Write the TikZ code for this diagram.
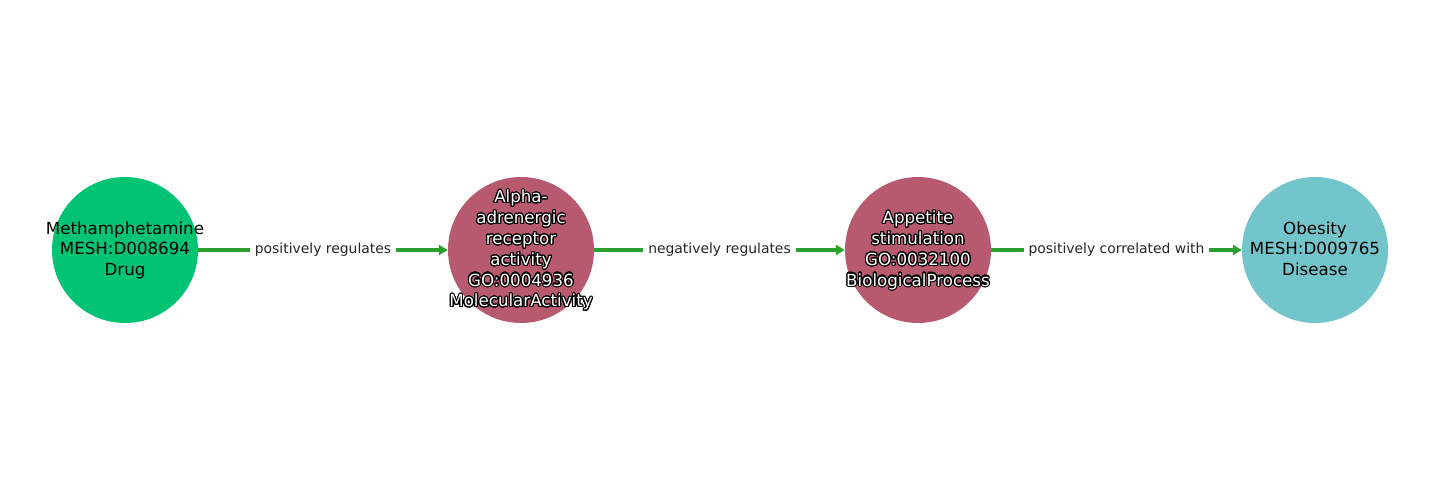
\documentclass[tikz,border=0pt]{standalone}
\usepackage{fontspec}
\setmainfont{DejaVu Sans}
\usepackage[copies]{contour}
\usetikzlibrary{arrows.meta}
\definecolor{drug}{HTML}{00C374}
\definecolor{proc}{HTML}{B85A6F}
\definecolor{dis}{HTML}{71C5CB}
\definecolor{edge}{HTML}{2CA02C}
\contourlength{1.1pt}
\contournumber{24}
\newcommand{\wl}[1]{\contour{black}{\textcolor{white}{#1}}}
\newcommand{\ztext}[1]{\smash{\makebox[0pt]{\raisebox{-0.3em}{\begin{tabular}{@{}c@{}}#1\end{tabular}}}}}
\begin{document}
\begin{tikzpicture}[x=1pt,y=1pt,
  ent/.style={circle,minimum size=146pt,inner sep=0pt,
    font=\fontsize{16.67}{20.8}\selectfont},
  rel/.style={draw=edge,line width=3.5pt,-{Triangle[length=9pt,width=10pt]}},
  lab/.style={fill=white,inner sep=5pt,font=\fontsize{13.9}{16}\selectfont,text=black!85}]
\useasboundingbox (0,0) rectangle (1440,500);
\node[ent,fill=drug] (a) at (125,250) {\ztext{Methamphetamine\\MESH:D008694\\Drug}};
\node[ent,fill=proc] (b) at (521,250) {\ztext{\wl{Alpha-}\\\wl{adrenergic}\\\wl{receptor}\\\wl{activity}\\\wl{GO:0004936}\\\wl{MolecularActivity}}};
\node[ent,fill=proc] (c) at (918,250) {\ztext{\wl{Appetite}\\\wl{stimulation}\\\wl{GO:0032100}\\\wl{BiologicalProcess}}};
\node[ent,fill=dis] (d) at (1315,250) {\ztext{Obesity\\MESH:D009765\\Disease}};
\draw[rel] (a) -- node[lab] {positively regulates} (b);
\draw[rel] (b) -- node[lab] {negatively regulates} (c);
\draw[rel] (c) -- node[lab] {positively correlated with} (d);
\end{tikzpicture}
\end{document}
